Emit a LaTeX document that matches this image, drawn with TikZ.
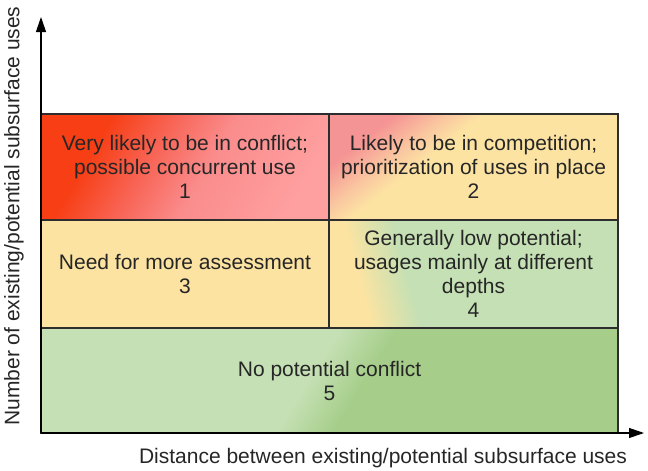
\documentclass[tikz,border=0pt]{standalone}
\usepackage{fontspec}
\setmainfont{Liberation Sans}
\usetikzlibrary{arrows.meta}
\definecolor{cRed}{RGB}{247,62,20}
\definecolor{cRedM}{RGB}{248,102,88}
\definecolor{cPink}{RGB}{250,140,140}
\definecolor{cPinkL}{RGB}{255,160,160}
\definecolor{cPinkB}{RGB}{245,148,148}
\definecolor{cPeach}{RGB}{250,198,160}
\definecolor{cYellow}{RGB}{252,227,162}
\definecolor{cYG}{RGB}{225,226,170}
\definecolor{cGreen}{RGB}{197,224,180}
\definecolor{cGreenD}{RGB}{166,206,138}
\definecolor{cBorder}{RGB}{45,45,45}
\pgfdeclarehorizontalshading{shOne}{100bp}{color(0bp)=(cRed); color(36bp)=(cRed); color(45bp)=(cRedM); color(53bp)=(cPink); color(68bp)=(cPinkL); color(100bp)=(cPinkL)}
\pgfdeclarehorizontalshading{shTwo}{100bp}{color(0bp)=(cPinkB); color(36bp)=(cPinkB); color(41bp)=(cPeach); color(44.5bp)=(cYellow); color(100bp)=(cYellow)}
\pgfdeclarehorizontalshading{shFour}{100bp}{color(0bp)=(cYellow); color(32.5bp)=(cYellow); color(36bp)=(cYG); color(40bp)=(cGreen); color(100bp)=(cGreen)}
\pgfdeclarehorizontalshading{shFive}{100bp}{color(0bp)=(cGreen); color(48.5bp)=(cGreen); color(52.5bp)=(cGreenD); color(100bp)=(cGreenD)}
% #1 shading, #2 angle, #3 cx, #4 cy, #5 half width, #6 half height, #7 half size of shaded square
\newcommand\gradfill[7]{%
  \begin{scope}
    \clip (#3-#5,#4-#6) rectangle (#3+#5,#4+#6);
    \begin{scope}[transform canvas={rotate around={#2:(#3,#4)}}]
      \shade[shading=#1] (#3-#7,#4-#7) rectangle (#3+#7,#4+#7);
    \end{scope}
  \end{scope}}
\begin{document}
\begin{tikzpicture}[x=1pt,y=-1pt,
  cell/.style={draw=cBorder, line width=1.1pt, inner sep=0pt, align=center,
    font=\fontsize{21}{24}\selectfont, text=black!85},
  lab/.style={inner sep=0pt, font=\fontsize{21}{24}\selectfont, text=black!85},
  axisline/.style={line width=1.1pt, black, -{Triangle[length=15pt,width=10pt]}}]
\useasboundingbox (0,0) rectangle (648,471);
\gradfill{shOne}{-30}{185}{167}{144}{53}{160}
\gradfill{shTwo}{-52}{473.5}{167}{144.5}{53}{160}
\fill[cYellow] (41,220) rectangle (329,328);
\gradfill{shFour}{15}{473.5}{274}{144.5}{54}{160}
\gradfill{shFive}{-32}{329.5}{380.5}{288.5}{52.5}{300}
\node[cell, minimum width=288pt, minimum height=106pt] (b1) at (185,167)
  {Very likely to be in conflict;\\possible concurrent use\\1};
\node[cell, minimum width=289pt, minimum height=106pt] (b2) at (473.5,167)
  {Likely to be in competition;\\prioritization of uses in place\\2};
\node[cell, minimum width=288pt, minimum height=108pt] (b3) at (185,274)
  {Need for more assessment\\3};
\node[cell, minimum width=289pt, minimum height=108pt] (b4) at (473.5,274)
  {Generally low potential;\\usages mainly at different\\depths\\4};
\node[cell, minimum width=577pt, minimum height=105pt] (b5) at (329.5,380.5)
  {No potential conflict\\5};
\coordinate (o) at (41,433);
\coordinate (ytop) at (41,17);
\coordinate (xend) at (644,433);
\draw[axisline] (o) -- (ytop);
\draw[axisline] (o) -- (xend);
\node[lab] (xl) at (383,458) {Distance between existing/potential subsurface uses};
\node[lab, rotate=90] (yl) at (14,216) {Number of existing/potential subsurface uses};
\end{tikzpicture}
\end{document}
